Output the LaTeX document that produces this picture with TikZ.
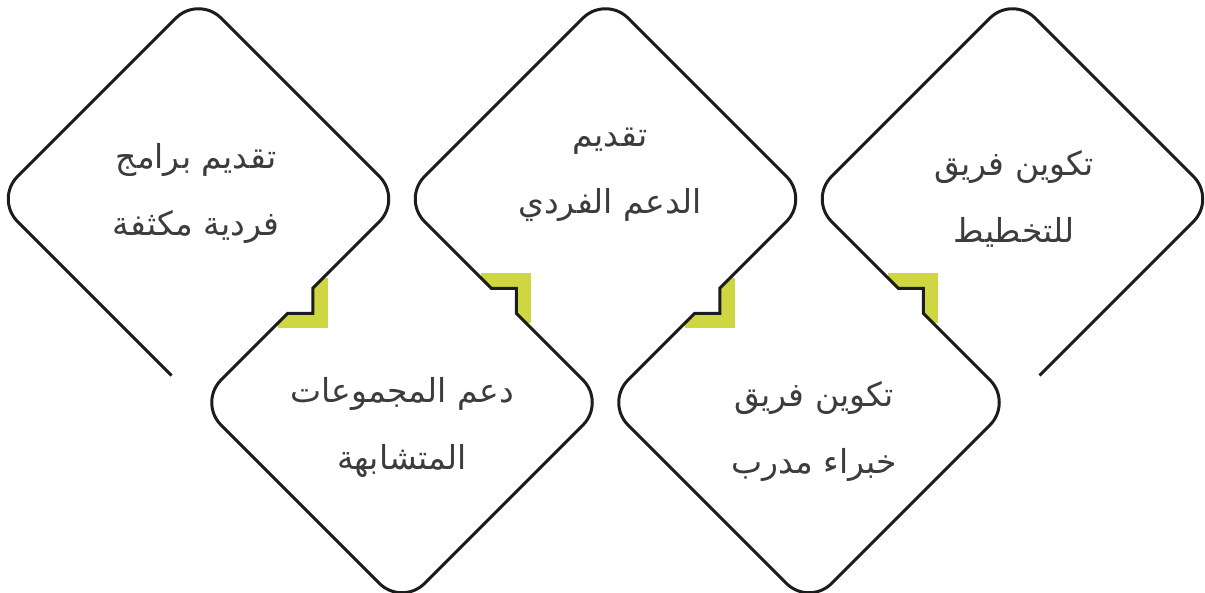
\documentclass[tikz,border=0pt]{standalone}
\usepackage{fontspec}
\usepackage{tikz}
\usepackage{xcolor}
\newfontfamily\arabicfont[Script=Arabic]{DejaVu Sans}
\TeXXeTstate=1
\definecolor{notchgreen}{RGB}{206,215,65}
\definecolor{textgray}{RGB}{60,60,60}
\definecolor{linedark}{RGB}{28,28,28}
\tikzstyle{diamondline} = [line width=3pt, draw=linedark, rounded corners=32pt]
\tikzstyle{itemtext} = [text=textgray, font=\arabicfont\fontsize{33}{67}\selectfont, align=center, inner sep=0pt]

\begin{document}
\begin{tikzpicture}[x=1pt, y=-1pt]
\useasboundingbox (0,0) rectangle (1205,592);
\foreach \mx/\flip in {300.25/1, 503.75/-1, 707.25/1, 910.75/-1} {
  \begin{scope}[shift={(\mx,300.75)}, yscale=\flip]
    \clip (52.5,-52.5) -- (12.5,-12.5) -- (12.5,12.5) -- (-12.5,12.5) -- (-52.5,52.5) -- (52.5,52.5) -- cycle;
    \fill[notchgreen] (-22.5,-22.5) rectangle (27.5,27.5);
  \end{scope}
}
\draw[diamondline] (171.5,375.5) -- (-5,199) -- (198.5,-4.5) -- (402,199) -- (357.4,243.6)
  [sharp corners] -- (312.75,288.25) -- (312.75,313.25) -- (287.75,313.25) -- (243.1,357.9)
  [rounded corners=32pt] -- (198.5,402.5) -- (402,606) -- (605.5,402.5) -- (560.9,357.9)
  [sharp corners] -- (516.25,313.25) -- (516.25,288.25) -- (491.25,288.25) -- (446.6,243.6)
  [rounded corners=32pt] -- (402,199) -- (605.5,-4.5) -- (809,199) -- (764.4,243.6)
  [sharp corners] -- (719.75,288.25) -- (719.75,313.25) -- (694.75,313.25) -- (650.1,357.9)
  [rounded corners=32pt] -- (605.5,402.5) -- (809,606) -- (1012.5,402.5) -- (967.9,357.9)
  [sharp corners] -- (923.25,313.25) -- (923.25,288.25) -- (898.25,288.25) -- (853.6,243.6)
  [rounded corners=32pt] -- (809,199) -- (1012.5,-4.5) -- (1216,199) -- (1039.5,375.5);
\node (programs) [itemtext] at (196,193) {\beginR تقديم برامج\endR\\\beginR فردية مكثفة\endR};
\node (support) [itemtext] at (610,175) {\beginR تقديم\endR\\\beginR الدعم الفردي\endR};
\node (planning) [itemtext] at (1014,199) {\beginR تكوين فريق\endR\\\beginR للتخطيط\endR};
\node (groups) [itemtext] at (402,427) {\beginR دعم المجموعات\endR\\\beginR المتشابهة\endR};
\node (experts) [itemtext] at (814,431) {\beginR تكوين فريق\endR\\\beginR خبراء  مدرب\endR};
\end{tikzpicture}
\end{document}
